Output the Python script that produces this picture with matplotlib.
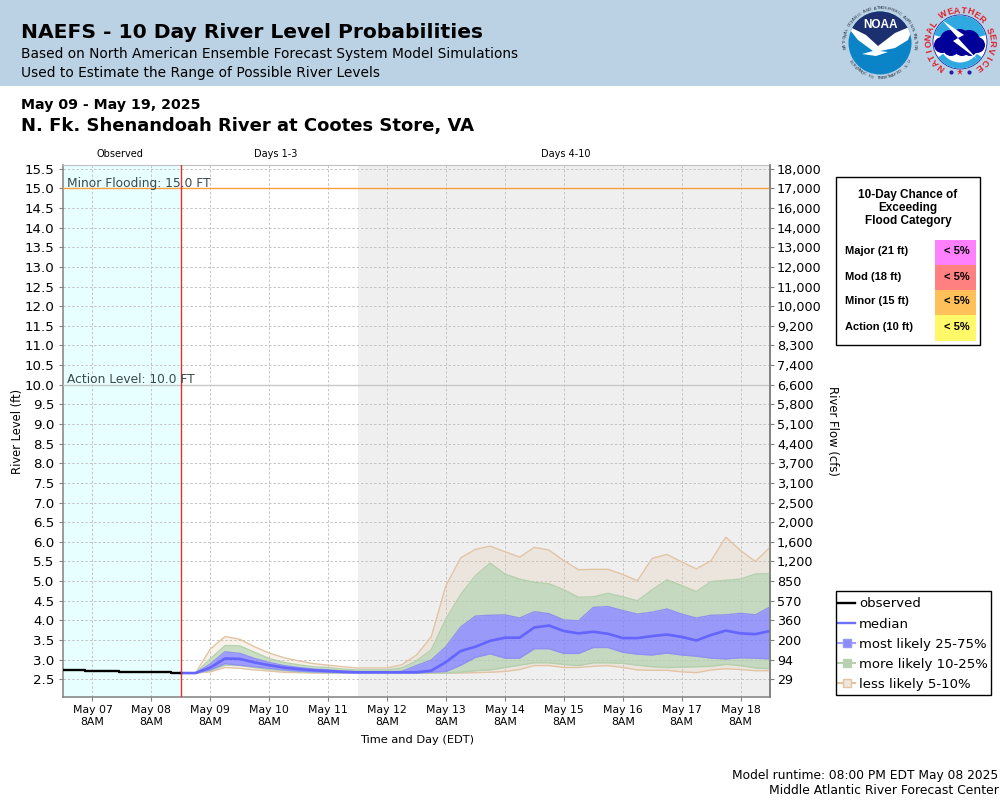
import numpy as np
import pandas as pd
import matplotlib
matplotlib.use('Agg')
import matplotlib.pyplot as plt
import matplotlib.dates as mdates
from matplotlib.lines import Line2D
from matplotlib.patches import Circle, Polygon, Rectangle, Wedge

# 6-hourly forecast times
fc_times = pd.date_range('2025-05-08 20:00', periods=41, freq='6h')

tan_top = [2.66, 2.66, 3.27, 3.59, 3.52, 3.33, 3.17, 3.05, 2.97, 2.90, 2.86, 2.82, 2.79, 2.79,
           2.79, 2.87, 3.12, 3.58, 4.89, 5.59, 5.81, 5.89, 5.75, 5.61, 5.86, 5.79, 5.52, 5.29,
           5.30, 5.30, 5.17, 5.01, 5.58, 5.68, 5.49, 5.31, 5.52, 6.12, 5.78, 5.50, 5.86]
green_top = [2.66, 2.66, 3.02, 3.36, 3.35, 3.19, 3.03, 2.93, 2.87, 2.82, 2.80, 2.76, 2.74, 2.74,
             2.74, 2.79, 2.97, 3.25, 4.04, 4.66, 5.14, 5.46, 5.18, 5.05, 4.97, 4.93, 4.78, 4.59,
             4.60, 4.69, 4.60, 4.50, 4.78, 5.03, 4.89, 4.73, 4.99, 5.02, 5.05, 5.18, 5.19]
blue_top = [2.66, 2.66, 2.89, 3.20, 3.16, 3.03, 2.93, 2.85, 2.80, 2.76, 2.74, 2.71, 2.69, 2.69,
            2.69, 2.70, 2.85, 2.99, 3.33, 3.83, 4.11, 4.13, 4.14, 4.06, 4.22, 4.17, 4.01, 3.99,
            4.33, 4.35, 4.25, 4.16, 4.21, 4.29, 4.16, 4.06, 4.13, 4.14, 4.18, 4.14, 4.34]
median = [2.66, 2.66, 2.80, 3.03, 3.02, 2.93, 2.86, 2.80, 2.76, 2.73, 2.71, 2.69, 2.68, 2.68,
          2.68, 2.68, 2.68, 2.72, 2.94, 3.22, 3.33, 3.48, 3.56, 3.56, 3.82, 3.87, 3.73, 3.67,
          3.71, 3.66, 3.55, 3.55, 3.60, 3.64, 3.58, 3.49, 3.63, 3.74, 3.67, 3.65, 3.73]
blue_bot = [2.66, 2.66, 2.74, 2.90, 2.86, 2.82, 2.78, 2.74, 2.71, 2.69, 2.68, 2.67, 2.66, 2.66,
            2.66, 2.66, 2.66, 2.68, 2.70, 2.86, 3.06, 3.15, 3.04, 3.04, 3.28, 3.28, 3.16, 3.16,
            3.31, 3.31, 3.19, 3.14, 3.12, 3.17, 3.12, 3.09, 3.04, 3.02, 3.05, 3.04, 3.02]
green_bot = [2.66, 2.66, 2.72, 2.86, 2.85, 2.80, 2.75, 2.72, 2.69, 2.68, 2.66, 2.66, 2.66, 2.66,
             2.66, 2.66, 2.66, 2.66, 2.66, 2.68, 2.72, 2.74, 2.80, 2.86, 2.92, 2.92, 2.88, 2.85,
             2.92, 2.92, 2.91, 2.86, 2.82, 2.80, 2.81, 2.82, 2.83, 2.88, 2.85, 2.79, 2.77]
tan_bot = [2.66, 2.66, 2.69, 2.80, 2.78, 2.74, 2.71, 2.68, 2.67, 2.66, 2.66, 2.66, 2.66, 2.66,
           2.66, 2.66, 2.66, 2.66, 2.66, 2.66, 2.67, 2.68, 2.70, 2.75, 2.85, 2.85, 2.80, 2.80,
           2.83, 2.85, 2.80, 2.74, 2.73, 2.73, 2.69, 2.67, 2.74, 2.77, 2.75, 2.72, 2.72]

obs_times = pd.to_datetime(['2025-05-06 20:00', '2025-05-07 05:00', '2025-05-07 19:00',
                            '2025-05-08 16:00', '2025-05-08 20:00'])
obs_level = [2.74, 2.71, 2.68, 2.66, 2.66]

level_ticks = [15.5, 15.0, 14.5, 14.0, 13.5, 13.0, 12.5, 12.0, 11.5, 11.0, 10.5, 10.0, 9.5, 9.0,
               8.5, 8.0, 7.5, 7.0, 6.5, 6.0, 5.5, 5.0, 4.5, 4.0, 3.5, 3.0, 2.5]
flow_labels = ['18,000', '17,000', '16,000', '14,000', '13,000', '12,000', '11,000', '10,000',
               '9,200', '8,300', '7,400', '6,600', '5,800', '5,100', '4,400', '3,700', '3,100',
               '2,500', '2,000', '1,600', '1,200', '850', '570', '360', '200', '94', '29']

categories = ['Major (21 ft)', 'Mod (18 ft)', 'Minor (15 ft)', 'Action (10 ft)']
chances = ['< 5%', '< 5%', '< 5%', '< 5%']
cat_colors = ['#ff80ff', '#ff8080', '#ffc05a', '#fff868']

TAN = '#e2c4a4'
GREEN = '#b4d0ac'

fig = plt.figure(figsize=(10, 8), dpi=100)
ax = fig.add_axes([63 / 1000, 1 - 697 / 800, 707 / 1000, (697 - 164.5) / 800])
ax.set_xlim(pd.Timestamp('2025-05-06 20:00'), pd.Timestamp('2025-05-18 20:00'))
ax.set_ylim(2.05, 15.606)

# background periods
ax.axvspan(pd.Timestamp('2025-05-06 20:00'), pd.Timestamp('2025-05-08 20:00'), color='#e8ffff', lw=0, zorder=0)
ax.axvspan(pd.Timestamp('2025-05-11 20:00'), pd.Timestamp('2025-05-18 20:00'), color='#efefef', lw=0, zorder=0)
ax.grid(True, linestyle=(0, (2.5, 2)), linewidth=0.7, color='#c4c4c4', zorder=1)
ax.set_axisbelow(True)

ax.fill_between(fc_times, green_top, tan_top, color=TAN, alpha=0.22, lw=0, zorder=2)
ax.fill_between(fc_times, tan_bot, green_bot, color=TAN, alpha=0.22, lw=0, zorder=2)
ax.fill_between(fc_times, blue_top, green_top, color=GREEN, alpha=0.7, lw=0, zorder=2)
ax.fill_between(fc_times, green_bot, blue_bot, color=GREEN, alpha=0.7, lw=0, zorder=2)
ax.fill_between(fc_times, blue_bot, blue_top, color='#7878ff', alpha=0.72, lw=0, zorder=2)
for series, col in [(tan_top, TAN), (tan_bot, TAN), (green_top, GREEN), (green_bot, GREEN),
                    (blue_top, '#9090f0'), (blue_bot, '#9090f0')]:
    ax.plot(fc_times, series, color=col, lw=1.0, zorder=3)
ax.plot(fc_times, median, color='#6464ff', lw=1.9, zorder=4)
ax.step(obs_times, obs_level, where='post', color='black', lw=1.7, zorder=5)

ax.axhline(15.0, color='#ffa040', lw=1.0, zorder=4)
ax.axhline(10.0, color='#c8c8c8', lw=1.0, zorder=4)
ax.axvline(pd.Timestamp('2025-05-08 20:00'), color='#e03030', lw=1.0, zorder=6)
ax.text(pd.Timestamp('2025-05-06 21:30'), 15.04, 'Minor Flooding: 15.0 FT', fontsize=8.8, color='#3a4a50', va='baseline', zorder=7)
ax.text(pd.Timestamp('2025-05-06 21:30'), 10.04, 'Action Level: 10.0 FT', fontsize=8.8, color='#3a4a50', va='baseline', zorder=7)

ax.set_yticks(level_ticks)
ax.set_yticklabels([f'{v:.1f}' for v in level_ticks], fontsize=9.6)
ax.xaxis.set_major_locator(mdates.HourLocator(byhour=[8]))
ax.xaxis.set_major_formatter(mdates.DateFormatter('%b %d\n8AM'))
ax.tick_params(axis='x', labelsize=7.8, length=3, color='#808080', pad=3)
ax.tick_params(axis='y', length=3, color='#808080', pad=3)
for side in ['left', 'bottom', 'right']:
    ax.spines[side].set_color('#808080')
    ax.spines[side].set_linewidth(1.1)
ax.spines['top'].set_color('#c0c0c0')

ax2 = ax.twinx()
ax2.set_ylim(ax.get_ylim())
ax2.set_yticks(level_ticks)
ax2.set_yticklabels(flow_labels, fontsize=9.2)
ax2.tick_params(axis='y', length=3, color='#808080', pad=2)
ax2.spines['right'].set_color('#808080')
ax2.spines['right'].set_linewidth(1.1)
ax2.spines['top'].set_visible(False)
ax2.spines['left'].set_visible(False)
ax2.spines['bottom'].set_visible(False)

handles = [
    Line2D([0], [0], color='black', lw=1.7),
    Line2D([0], [0], color='#7070ff', lw=1.7),
    Line2D([0], [0], color='#a0a0ff', lw=1.5, marker='s', ms=6, mfc='#8c8cf8', mec='#9898f8'),
    Line2D([0], [0], color='#b4d0ac', lw=1.5, marker='s', ms=6, mfc='#b8cfb4', mec='#b8d4b0'),
    Line2D([0], [0], color='#e2c4a4', lw=1.5, marker='s', ms=6, mfc='#f0e6da', mec='#e2c4a4'),
]
leg = fig.legend(handles, ['observed', 'median', 'most likely 25-75%', 'more likely 10-25%', 'less likely 5-10%'],
                 loc='upper left', bbox_to_anchor=(835.5 / 1000, 1 - 594.5 / 800), fontsize=9.55,
                 frameon=False, borderaxespad=0,
                 handlelength=1.25, handletextpad=0.3, labelspacing=0.54, borderpad=0.22)

# overlay in pixel coordinates for the page furniture
pg = fig.add_axes([0, 0, 1, 1], zorder=-1)
pg.set_xlim(0, 1000)
pg.set_ylim(800, 0)
pg.axis('off')
ov = fig.add_axes([0, 0, 1, 1], zorder=10)
ov.set_xlim(0, 1000)
ov.set_ylim(800, 0)
ov.axis('off')
ov.patch.set_alpha(0)

pg.add_patch(Rectangle((0, 0), 1000, 86, color='#bad2e4', lw=0))
ov.add_patch(Rectangle((835.5, 591), 155.5, 104, fc='none', ec='black', lw=1))
ov.text(21, 33, 'NAEFS - 10 Day River Level Probabilities', fontsize=14.6, fontweight='bold', va='center')
ov.text(21, 54, 'Based on North American Ensemble Forecast System Model Simulations', fontsize=9.88, va='center')
ov.text(21, 73, 'Used to Estimate the Range of Possible River Levels', fontsize=9.88, va='center')
ov.text(21, 105, 'May 09 - May 19, 2025', fontsize=10.2, fontweight='bold', va='center')
ov.text(21, 126, 'N. Fk. Shenandoah River at Cootes Store, VA', fontsize=12.95, fontweight='bold', va='center')

ov.text(120, 154, 'Observed', fontsize=7, ha='center', va='center')
ov.text(276, 154, 'Days 1-3', fontsize=7, ha='center', va='center')
ov.text(566, 154, 'Days 4-10', fontsize=7, ha='center', va='center')
ov.text(18, 431, 'River Level (ft)', fontsize=8.3, rotation=90, ha='center', va='center')
ov.text(832, 431, 'River Flow (cfs)', fontsize=8.4, rotation=270, ha='center', va='center')
ov.text(417, 740, 'Time and Day (EDT)', fontsize=8.2, ha='center', va='center')
ov.text(998, 775, 'Model runtime: 08:00 PM EDT May 08 2025', fontsize=8.8, ha='right', va='center')
ov.text(999, 791, 'Middle Atlantic River Forecast Center', fontsize=8.9, ha='right', va='center')

# chance of exceeding table
ov.add_patch(Rectangle((836, 177), 144, 168, fc='white', ec='black', lw=1))
for i, line in enumerate(['10-Day Chance of', 'Exceeding', 'Flood Category']):
    ov.text(908, 195 + i * 13, line, fontsize=8.5, fontweight='bold', family='Liberation Sans', ha='center', va='center')
for i, (cat, chance, col) in enumerate(zip(categories, chances, cat_colors)):
    y = 240 + i * 25
    ov.add_patch(Rectangle((935, y), 41, 26 if i == 3 else 25, color=col, lw=0))
    ov.text(845, y + 11.5, cat, fontsize=8.0, fontweight='bold', family='Liberation Sans', va='center')
    ov.text(969.5, y + 11.5, chance, fontsize=8, fontweight='bold', family='Liberation Sans', ha='right', va='center')


def ring_text(text, cx, cy, r, start, end, **kw):
    for ch, ang in zip(text, np.linspace(start, end, len(text))):
        rad = np.radians(ang)
        ov.text(cx + r * np.sin(rad), cy - r * np.cos(rad), ch, rotation=-ang, ha='center', va='center', **kw)


def ring_text_under(text, cx, cy, r, start, end, **kw):
    # letters read upright along the bottom of the ring
    for ch, ang in zip(text, np.linspace(start, end, len(text))):
        rad = np.radians(ang)
        ov.text(cx + r * np.sin(rad), cy - r * np.cos(rad), ch, rotation=180 - ang, ha='center', va='center', **kw)


# NOAA logo
nx, ny = 880, 43
disc = Circle((nx, ny), 31.5, color='#0a84c6', lw=0)
ov.add_patch(disc)
dark = Polygon([(848, 10), (912, 10), (912, 27), (895, 35), (878, 47), (866, 37), (848, 27)], color='#1c2f6e', lw=0)
ov.add_patch(dark)
dark.set_clip_path(disc)
bird = Polygon([(846, 25), (866, 35), (878, 46), (895, 33), (914, 25), (908, 40), (895, 48), (880, 51),
                (888, 52), (876, 56), (862, 54), (873, 51), (858, 40)], color='white', lw=0)
ov.add_patch(bird)
bird.set_clip_path(disc)
ov.text(nx, 25, 'NOAA', fontsize=8.5, fontweight='bold', color='white', ha='center', va='center', family='Liberation Sans')
ring_text('NATIONAL OCEANIC AND ATMOSPHERIC ADMINISTRATION', nx, ny, 35, -98, 98, fontsize=3, color='#26303c')
ring_text_under('U.S. DEPARTMENT OF COMMERCE', nx, ny, 35, 122, 238, fontsize=3, color='#26303c')

# NWS logo
wx, wy = 960, 42
ov.add_patch(Circle((wx, wy), 27, fc='white', ec='#2020a0', lw=0.6))
ov.add_patch(Wedge((wx, wy), 26.5, 195, 345, color='#30a8e0', lw=0))
ov.add_patch(Wedge((wx, wy), 26.5, 35, 145, width=6, color='#30a8e0', lw=0))
# cloud built up from overlapping circles
for dx, dy, rr in [(-18, 3, 8), (-10, -2, 10), (0, -4, 9), (9, -1, 11), (17, 3, 8), (-9, 6, 8), (2, 6, 8), (10, 7, 7)]:
    ov.add_patch(Circle((wx + dx, wy + dy), rr, color='#000099', lw=0))
ov.add_patch(Polygon([(942, 20), (964, 35), (958, 38), (977, 59), (953, 41), (958, 38)], color='white', lw=0))
ring_text('NATIONAL WEATHER SERVICE', wx, wy, 31.5, -143, 143, fontsize=6.5, fontweight='bold', color='#e0202c', family='Liberation Sans')
for dx, col, m in [(-9, '#2020a0', 'o'), (0, '#e0202c', '*'), (9, '#2020a0', 'o')]:
    ov.plot([wx + dx], [wy + 30], marker=m, ms=3 if m == 'o' else 5, color=col, mew=0)
ov.set_xlim(0, 1000)
ov.set_ylim(800, 0)

plt.savefig('out.png', dpi=100)
